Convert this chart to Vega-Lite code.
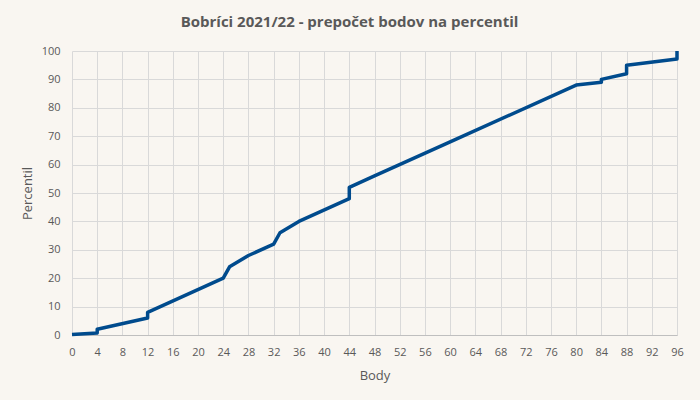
{
  "$schema": "https://vega.github.io/schema/vega-lite/v6.json",
  "width": 605,
  "height": 284,
  "autosize": {"type": "none"},
  "padding": {"left": 72, "top": 51, "right": 23, "bottom": 65},
  "background": "#F9F6F1",
  "title": {
    "text": "Bobríci 2021/22 - prepočet bodov na percentil",
    "font": "Open Sans",
    "fontSize": 15,
    "fontWeight": "bold",
    "color": "#595959",
    "anchor": "middle",
    "dx": -25,
    "offset": 15
  },
  "config": {
    "view": {"stroke": null},
    "axis": {
      "labelFont": "Open Sans",
      "titleFont": "Open Sans",
      "labelColor": "#595959",
      "titleColor": "#595959",
      "labelFontSize": 11,
      "titleFontSize": 13,
      "titleFontWeight": "normal",
      "gridColor": "#D9D9D9",
      "gridWidth": 1,
      "ticks": false
    }
  },
  "data": {
    "values": [
      {"body": 0, "percentil": 0.2},
      {"body": 4, "percentil": 0.7},
      {"body": 4, "percentil": 2},
      {"body": 12, "percentil": 6},
      {"body": 12, "percentil": 8},
      {"body": 24, "percentil": 20},
      {"body": 25, "percentil": 24},
      {"body": 28, "percentil": 28},
      {"body": 32, "percentil": 32},
      {"body": 33, "percentil": 36},
      {"body": 36, "percentil": 40},
      {"body": 44, "percentil": 48},
      {"body": 44, "percentil": 52},
      {"body": 48, "percentil": 56},
      {"body": 60, "percentil": 68},
      {"body": 80, "percentil": 88},
      {"body": 84, "percentil": 89},
      {"body": 84, "percentil": 90},
      {"body": 88, "percentil": 92},
      {"body": 88, "percentil": 95},
      {"body": 96, "percentil": 97.2},
      {"body": 96, "percentil": 100}
    ]
  },
  "mark": {"type": "line", "color": "#004B8D", "strokeWidth": 3.5, "strokeJoin": "round"},
  "encoding": {
    "order": {"field": "percentil", "type": "quantitative"},
    "x": {
      "field": "body",
      "type": "quantitative",
      "title": "Body",
      "scale": {"domain": [0, 96], "nice": false},
      "axis": {"values": [0,4,8,12,16,20,24,28,32,36,40,44,48,52,56,60,64,68,72,76,80,84,88,92,96], "labelPadding": 11, "titlePadding": 12, "domainColor": "#BFBFBF", "labelFlush": false}
    },
    "y": {
      "field": "percentil",
      "type": "quantitative",
      "title": "Percentil",
      "scale": {"domain": [0, 100], "nice": false},
      "axis": {"values": [0,10,20,30,40,50,60,70,80,90,100], "domain": false, "labelPadding": 12, "titlePadding": 7}
    }
  }
}
